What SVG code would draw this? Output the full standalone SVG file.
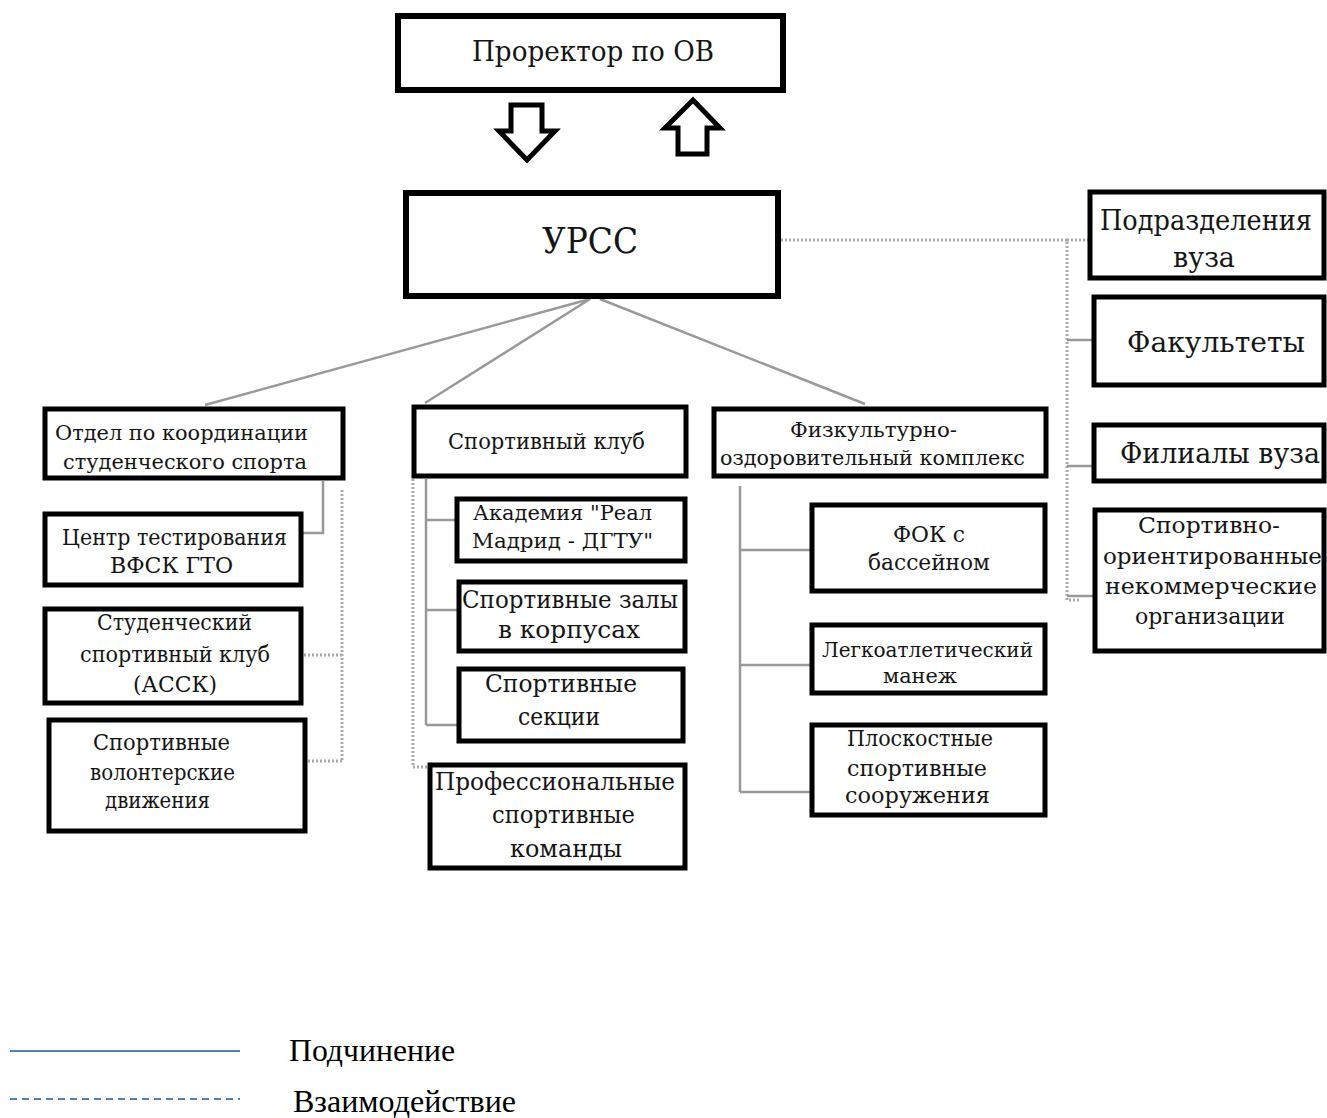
<svg xmlns="http://www.w3.org/2000/svg" width="1327" height="1118" viewBox="0 0 1327 1118">
<style>
.box{fill:#fff;stroke:#000;stroke-width:5}
.thick{stroke-width:6}
text{font-family:'DejaVu Serif',serif;fill:#151515}
.sol{stroke:#999;stroke-width:2.5;fill:none}
.dot{stroke:#aaa;stroke-width:3;fill:none;stroke-dasharray:2 2}
.arr{fill:#fff;stroke:#000;stroke-width:5;stroke-linejoin:miter}
.leg{stroke:#4f81bd;stroke-width:2;fill:none}
.lg{font-family:'Liberation Serif',serif;fill:#000}
</style>
<rect width="1327" height="1118" fill="#fff"/>
<g id="connectors">
<line class="sol" x1="590" y1="299" x2="205" y2="405"/>
<line class="sol" x1="590" y1="299" x2="425" y2="403"/>
<line class="sol" x1="600" y1="299" x2="865" y2="404"/>
<polyline class="dot" points="781,240 1067,240 1067,600 1080,600"/>
<line class="dot" x1="1067" y1="240" x2="1088" y2="240"/>
<line class="sol" x1="1067" y1="340" x2="1092" y2="340"/>
<line class="sol" x1="1067" y1="466" x2="1092" y2="466"/>
<line class="sol" x1="1067" y1="596" x2="1093" y2="596"/>
<polyline class="sol" points="323,481 323,533 303,533"/>
<line class="dot" x1="342" y1="490" x2="342" y2="762"/>
<line class="dot" x1="304" y1="655" x2="342" y2="655"/>
<line class="dot" x1="308" y1="761" x2="342" y2="761"/>
<line class="sol" x1="426" y1="479" x2="426" y2="725"/>
<line class="sol" x1="426" y1="520" x2="455" y2="520"/>
<line class="sol" x1="426" y1="610" x2="457" y2="610"/>
<line class="sol" x1="426" y1="725" x2="457" y2="725"/>
<polyline class="dot" points="413,479 413,767 428,767"/>
<line class="sol" x1="740" y1="486" x2="740" y2="792"/>
<line class="sol" x1="740" y1="550" x2="810" y2="550"/>
<line class="sol" x1="740" y1="665" x2="810" y2="665"/>
<line class="sol" x1="740" y1="792" x2="810" y2="792"/>
</g>
<g id="arrows">
<polygon class="arr" points="511,105 542,105 542,131 555,131 527,160 499,131 511,131"/>
<polygon class="arr" points="678,154 707,154 707,128 720,128 693,100 665,128 678,128"/>
</g>
<g id="n-prorektor"><rect class="box thick" x="398" y="16" width="385" height="74"/><text x="472" y="61" font-size="28" textLength="242" lengthAdjust="spacingAndGlyphs">Проректор по ОВ</text></g>
<g id="n-urss"><rect class="box thick" x="406" y="193" width="372" height="103"/><text x="542" y="253" font-size="35" textLength="96" lengthAdjust="spacingAndGlyphs">УРСС</text></g>
<g id="n-otdel"><rect class="box" x="45" y="409" width="298" height="69"/><text font-size="21"><tspan x="55" y="440" textLength="253" lengthAdjust="spacingAndGlyphs">Отдел по координации</tspan><tspan x="63" y="469" textLength="244" lengthAdjust="spacingAndGlyphs">студенческого спорта</tspan></text></g>
<g id="n-gto"><rect class="box" x="45" y="514" width="256" height="71"/><text font-size="22"><tspan x="62" y="545" textLength="225" lengthAdjust="spacingAndGlyphs">Центр тестирования</tspan><tspan x="110" y="573" textLength="123" lengthAdjust="spacingAndGlyphs">ВФСК ГТО</tspan></text></g>
<g id="n-assk"><rect class="box" x="45" y="609" width="256" height="94"/><text font-size="22"><tspan x="97" y="630" textLength="155" lengthAdjust="spacingAndGlyphs">Студенческий</tspan><tspan x="80" y="662" textLength="190" lengthAdjust="spacingAndGlyphs">спортивный клуб</tspan><tspan x="133" y="692" textLength="84" lengthAdjust="spacingAndGlyphs">(АССК)</tspan></text></g>
<g id="n-volont"><rect class="box" x="49" y="720" width="256" height="111"/><text font-size="22"><tspan x="93" y="750" textLength="137" lengthAdjust="spacingAndGlyphs">Спортивные</tspan><tspan x="90" y="780" textLength="145" lengthAdjust="spacingAndGlyphs">волонтерские</tspan><tspan x="105" y="808" textLength="105" lengthAdjust="spacingAndGlyphs">движения</tspan></text></g>
<g id="n-sportklub"><rect class="box" x="414" y="407" width="272" height="69"/><text x="448" y="449" font-size="22" textLength="197" lengthAdjust="spacingAndGlyphs">Спортивный клуб</text></g>
<g id="n-akad"><rect class="box" x="457" y="499" width="228" height="62"/><text font-size="21"><tspan x="473" y="520" textLength="179" lengthAdjust="spacingAndGlyphs">Академия "Реал</tspan><tspan x="472" y="548" textLength="181" lengthAdjust="spacingAndGlyphs">Мадрид - ДГТУ"</tspan></text></g>
<g id="n-zaly"><rect class="box" x="459" y="582" width="226" height="69"/><text font-size="25"><tspan x="462" y="608" textLength="216" lengthAdjust="spacingAndGlyphs">Спортивные залы</tspan><tspan x="498" y="638" textLength="142" lengthAdjust="spacingAndGlyphs">в корпусах</tspan></text></g>
<g id="n-sekcii"><rect class="box" x="459" y="669" width="224" height="72"/><text font-size="25"><tspan x="485" y="692" textLength="152" lengthAdjust="spacingAndGlyphs">Спортивные</tspan><tspan x="518" y="725" textLength="82" lengthAdjust="spacingAndGlyphs">секции</tspan></text></g>
<g id="n-prof"><rect class="box" x="430" y="765" width="255" height="103"/><text font-size="25"><tspan x="435" y="790" textLength="240" lengthAdjust="spacingAndGlyphs">Профессиональные</tspan><tspan x="492" y="823" textLength="143" lengthAdjust="spacingAndGlyphs">спортивные</tspan><tspan x="510" y="857" textLength="112" lengthAdjust="spacingAndGlyphs">команды</tspan></text></g>
<g id="n-fok-main"><rect class="box" x="714" y="409" width="332" height="67"/><text font-size="21"><tspan x="790" y="437" textLength="167" lengthAdjust="spacingAndGlyphs">Физкультурно-</tspan><tspan x="720" y="465" textLength="305" lengthAdjust="spacingAndGlyphs">оздоровительный комплекс</tspan></text></g>
<g id="n-fok"><rect class="box" x="812" y="505" width="233" height="86"/><text font-size="23"><tspan x="893" y="542" textLength="72" lengthAdjust="spacingAndGlyphs">ФОК с</tspan><tspan x="868" y="570" textLength="122" lengthAdjust="spacingAndGlyphs">бассейном</tspan></text></g>
<g id="n-manezh"><rect class="box" x="812" y="625" width="233" height="68"/><text font-size="21"><tspan x="822" y="657" textLength="211" lengthAdjust="spacingAndGlyphs">Легкоатлетический</tspan><tspan x="883" y="683" textLength="74" lengthAdjust="spacingAndGlyphs">манеж</tspan></text></g>
<g id="n-plosk"><rect class="box" x="812" y="725" width="233" height="90"/><text font-size="22"><tspan x="847" y="746" textLength="146" lengthAdjust="spacingAndGlyphs">Плоскостные</tspan><tspan x="847" y="776" textLength="140" lengthAdjust="spacingAndGlyphs">спортивные</tspan><tspan x="845" y="803" textLength="145" lengthAdjust="spacingAndGlyphs">сооружения</tspan></text></g>
<g id="n-podr"><rect class="box" x="1090" y="192" width="234" height="86"/><text font-size="27"><tspan x="1100" y="230" textLength="212" lengthAdjust="spacingAndGlyphs">Подразделения</tspan><tspan x="1173" y="267" textLength="62" lengthAdjust="spacingAndGlyphs">вуза</tspan></text></g>
<g id="n-fak"><rect class="box" x="1094" y="297" width="230" height="88"/><text x="1127" y="352" font-size="27" textLength="178" lengthAdjust="spacingAndGlyphs">Факультеты</text></g>
<g id="n-filial"><rect class="box" x="1094" y="425" width="230" height="56"/><text x="1120" y="463" font-size="28" textLength="200" lengthAdjust="spacingAndGlyphs">Филиалы вуза</text></g>
<g id="n-nko"><rect class="box" x="1095" y="510" width="229" height="141"/><text font-size="22"><tspan x="1138" y="533" textLength="142" lengthAdjust="spacingAndGlyphs">Спортивно-</tspan><tspan x="1103" y="564" textLength="219" lengthAdjust="spacingAndGlyphs">ориентированные</tspan><tspan x="1105" y="594" textLength="212" lengthAdjust="spacingAndGlyphs">некоммерческие</tspan><tspan x="1135" y="624" textLength="150" lengthAdjust="spacingAndGlyphs">организации</tspan></text></g>
<g id="legend">
<line class="leg" x1="10" y1="1051" x2="240" y2="1051"/>
<line class="leg" x1="10" y1="1099" x2="240" y2="1099" stroke-dasharray="7 5"/>
<text class="lg" x="289" y="1061" font-size="31" textLength="166" lengthAdjust="spacingAndGlyphs">Подчинение</text>
<text class="lg" x="293" y="1112" font-size="31" textLength="223" lengthAdjust="spacingAndGlyphs">Взаимодействие</text>
</g>
</svg>
